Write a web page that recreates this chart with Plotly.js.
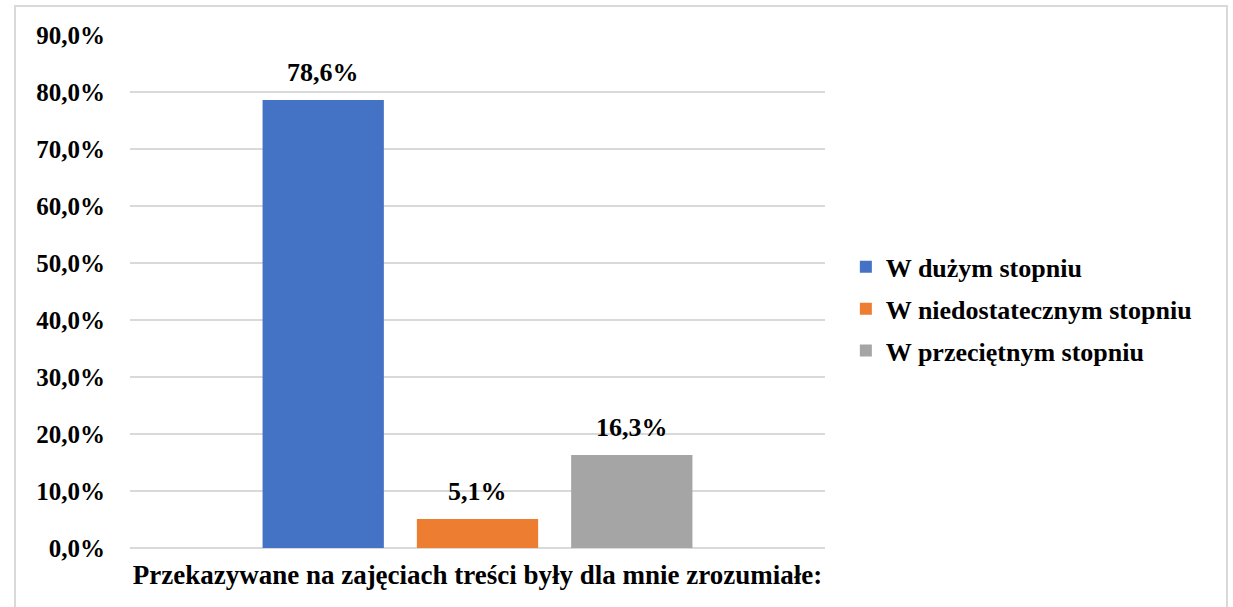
<!DOCTYPE html>
<html>
<head>
<meta charset="utf-8">
<script src="https://cdn.plot.ly/plotly-3.0.1.min.js"></script>
<style>
html,body{margin:0;padding:0;background:#fff;}
#chart{width:1233px;height:607px;position:absolute;left:0;top:0;}
#frame{position:absolute;left:14px;top:5px;width:1210px;height:620px;border:2px solid #d9d9d9;pointer-events:none;}
</style>
</head>
<body>
<div id="chart"></div>
<div id="frame"></div>
<script>
const category = ["Przekazywane na zajęciach treści były dla mnie zrozumiałe:"];
const seriesNames = ["W dużym stopniu", "W niedostatecznym stopniu", "W przeciętnym stopniu"];
const seriesValues = [0.786, 0.051, 0.163];
const seriesColors = ["#4472C4", "#ED7D31", "#A5A5A5"];
const tickValues = [0, 0.1, 0.2, 0.3, 0.4, 0.5, 0.6, 0.7, 0.8, 0.9];

const font = "Liberation Serif";
const fs = 26;
const bargap = 0.334;
const n = seriesNames.length;

const traces = seriesNames.map((name, i) => ({
  type: 'bar',
  name: name,
  x: [0],
  y: [seriesValues[i]],
  marker: {color: seriesColors[i]},
  legendgroup: 'g' + i,
  hoverinfo: 'none'
}));

// value labels above each bar, placed at the bar's slot centre in axis units
const slot = (1 - bargap) / n;
const annotations = seriesValues.map((v, i) => ({
  x: (i - (n - 1) / 2) * slot,
  y: v,
  xref: 'x', yref: 'y',
  text: (v * 100).toFixed(1).replace('.', ',') + '%',
  showarrow: false,
  yanchor: 'bottom',
  yshift: 11,
  font: {family: font, size: fs, color: '#000', weight: 'bold'}
}));

const layout = {
  width: 1233, height: 607,
  margin: {l: 130, r: 408, t: 35, b: 59},
  paper_bgcolor: '#fff', plot_bgcolor: '#fff',
  separators: ',.',
  barmode: 'group',
  bargap: bargap,
  bargroupgap: 0.214,
  font: {family: font, color: '#000', size: fs},
  showlegend: true,
  annotations: annotations,
  legend: {
    x: 1.030, xanchor: 'left', y: 0.466, yanchor: 'middle',
    font: {family: font, size: fs, color: '#000', weight: 'bold'},
    traceorder: 'grouped', tracegroupgap: 5,
    itemwidth: 30
  },
  xaxis: {
    type: 'linear', range: [-0.5, 0.5],
    showticklabels: false, showgrid: false, zeroline: false,
    showline: false, ticks: '',
    title: {text: category[0], font: {family: font, size: 27, color: '#000', weight: 'bold'}, standoff: 17}
  },
  yaxis: {
    range: [0, 0.9], tickvals: tickValues, tickformat: '.1%',
    tickfont: {family: font, size: 25, color: '#000', weight: 'bold'},
    showgrid: true, gridcolor: '#d9d9d9', gridwidth: 2,
    zeroline: true, zerolinecolor: '#d9d9d9', zerolinewidth: 2,
    showline: false, ticks: '', ticklabelstandoff: 24
  }
};

Plotly.newPlot('chart', traces, layout, {staticPlot: true, displayModeBar: false});
</script>
</body>
</html>
